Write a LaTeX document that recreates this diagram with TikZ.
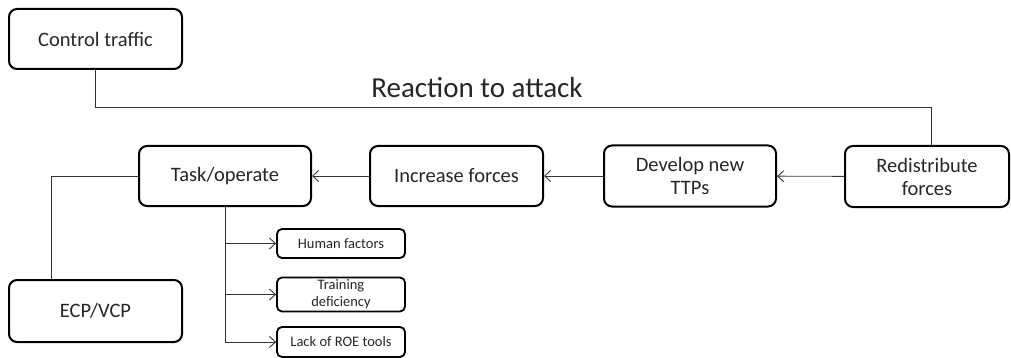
\documentclass[tikz,border=0pt]{standalone}
\usepackage{fontspec}
\setmainfont{Carlito}
\usetikzlibrary{arrows.meta,calc}
\begin{document}
\begin{tikzpicture}[x=1pt,y=-1pt,
  txt/.style={text=black!85},
  bigbox/.style={draw, line width=2pt, rounded corners=8pt, align=center, txt,
    font=\fontsize{20.5}{23}\selectfont, inner sep=2pt},
  smallbox/.style={draw, line width=1.8pt, rounded corners=5pt, align=center, txt,
    font=\fontsize{14.5}{17}\selectfont, inner sep=0pt, minimum width=128pt},
  link/.style={line width=0.9pt, draw=black!80},
  arr/.style={link, -{Straight Barb[length=6pt,width=11pt]}}]
\useasboundingbox (0,0) rectangle (1011,358);

% main boxes
\node[bigbox, minimum width=173pt, minimum height=60pt] (ctrl) at (95.5,39) {Control traffic};
\node[bigbox, minimum width=172pt, minimum height=60pt] (task) at (225,176) {Task/operate};
\node[bigbox, minimum width=173pt, minimum height=60pt] (inc) at (456.5,176) {Increase forces};
\node[bigbox, minimum width=172pt, minimum height=61pt] (dev) at (690,176) {Develop new\\TTPs};
\node[bigbox, minimum width=164pt, minimum height=61pt] (redis) at (927,176.5) {Redistribute\\forces};
\node[bigbox, minimum width=173pt, minimum height=62pt] (ecp) at (95.5,311) {ECP/VCP};

% cause boxes
\node[smallbox, minimum height=29pt] (hum) at (341,243.5) {Human factors};
\node[smallbox, minimum height=34pt] (train) at (341,294.5) {Training\\deficiency};
\node[smallbox, minimum height=30pt] (lack) at (341,342) {Lack of ROE tools};

% feedback line
\draw[link] (ctrl.south) -- ++(0,37) coordinate (bend) -| ([xshift=4pt]redis.north);
\node[txt, font=\fontsize{29}{31}\selectfont] (react) at (477,88) {Reaction to attack};

% chain of responses
\draw[arr] (redis) -- (dev);
\draw[arr] (dev) -- (inc);
\draw[arr] (inc) -- (task);
\draw[link] (task.west) -| ($(ecp.north west)!0.25!(ecp.north east)$);

% causes
\draw[arr] (task.south) |- (lack.west);
\draw[arr] (task.south |- hum.west) -- (hum.west);
\draw[arr] (task.south |- train.west) -- (train.west);
\end{tikzpicture}
\end{document}
